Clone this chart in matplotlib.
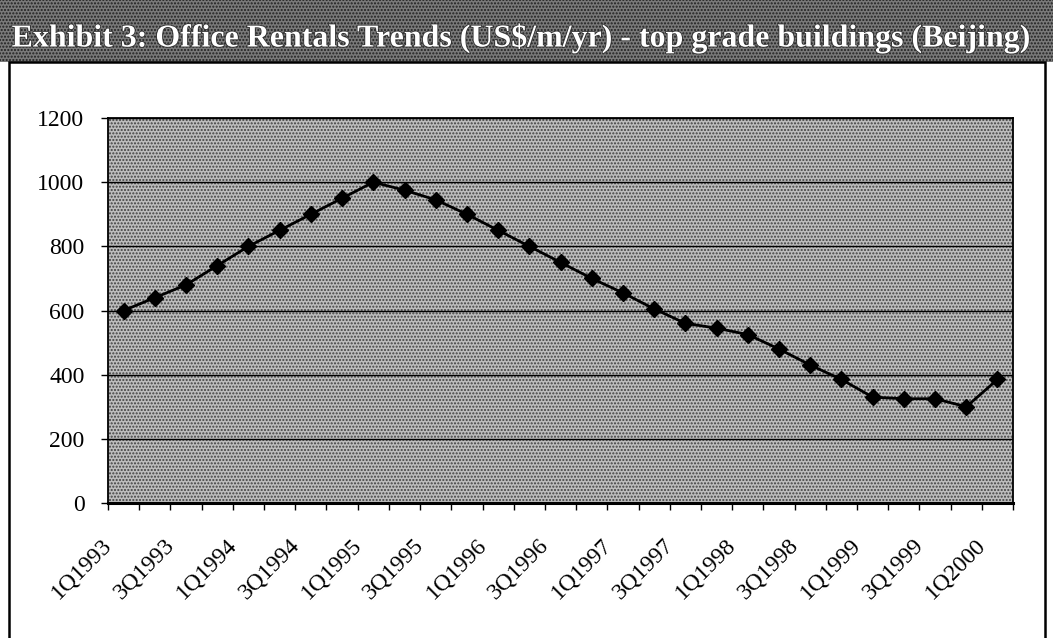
import matplotlib
matplotlib.use('Agg')
import matplotlib.pyplot as plt
import matplotlib.patheffects as pe
import matplotlib.transforms as mtrans
from matplotlib.patches import Rectangle
from matplotlib.ticker import FixedLocator

plt.rcParams['font.family'] = ['Liberation Serif', 'DejaVu Serif']
plt.rcParams['hatch.linewidth'] = 1.0

# quarterly rents, US$/m/yr
quarters = ['%dQ%d' % (q, y) for y in range(1993, 2000) for q in (1, 2, 3, 4)] + ['1Q2000']
rents = [600, 640, 680, 740, 800, 850, 900, 950, 1000, 975, 945, 900, 850, 800, 750,
         700, 655, 605, 560, 545, 525, 480, 430, 385, 330, 325, 325, 300, 385]
y_ticks = [0, 200, 400, 600, 800, 1000, 1200]
title = 'Exhibit 3: Office Rentals Trends (US\\$/m/yr) - top grade buildings (Beijing)'

fig = plt.figure(figsize=(10.53, 6.38), dpi=100)

# title band
band = Rectangle((0, 0.903), 1, 0.097, transform=fig.transFigure, facecolor='#7a7a7a',
                 edgecolor='#202020', hatch='.....', lw=0, zorder=0)
fig.patches.append(band)
fig.text(0.011, 0.940, title, fontsize=23, fontweight='bold', color='white', va='center',
         path_effects=[pe.withStroke(linewidth=1.2, foreground='#303030')])

# outer frame
frame = Rectangle((0.0085, -0.01), 0.984, 0.913, transform=fig.transFigure, fill=False,
                  edgecolor='black', lw=1.8, zorder=1)
fig.patches.append(frame)

ax = fig.add_axes([0.1026, 0.2116, 0.8595, 0.6034])
ax.set_facecolor('#bdbdbd')
ax.patch.set_hatch('.....')
ax.patch.set_edgecolor('#404040')

x = list(range(len(quarters)))
ax.plot(x, rents, color='black', lw=2, marker='D', markersize=8.5, zorder=3)

ax.set_xlim(-0.5, len(quarters) - 0.5)
ax.set_ylim(0, 1200)
ax.set_yticks(y_ticks)
ax.yaxis.grid(True, color='black', lw=1)
ax.set_axisbelow(True)

ax.set_xticks(x[::2], quarters[::2], rotation=45, ha='right', va='center',
              rotation_mode='anchor')
ax.xaxis.set_minor_locator(FixedLocator([i - 0.5 for i in range(len(quarters) + 1)]))
ax.tick_params(axis='x', which='major', length=0, pad=28, labelsize=17)
ax.tick_params(axis='x', which='minor', length=5, width=1, direction='out')
ax.tick_params(axis='y', length=5, width=1, direction='out', pad=12, labelsize=17)

# labels sit a little left of the category centre, like the original
shift = mtrans.ScaledTranslation(-0.15, 0, fig.dpi_scale_trans)
for lab in ax.get_xticklabels():
    lab.set_transform(lab.get_transform() + shift)

for s in ax.spines.values():
    s.set_linewidth(1.3)
ax.spines['bottom'].set_linewidth(2.2)

plt.savefig('out.png', dpi=100)
